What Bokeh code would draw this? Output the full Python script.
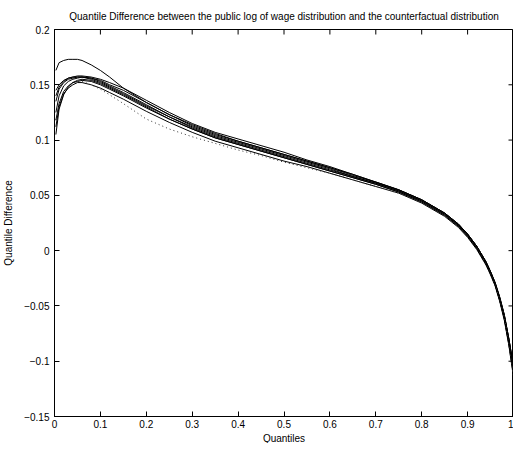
import math
from bokeh.plotting import figure
from bokeh.models import Range1d, FixedTicker, ColumnDataSource, Title
from bokeh.embed import file_html
from bokeh.resources import INLINE

# ---------------- data ----------------
q = [0.003, 0.01, 0.02, 0.03, 0.04, 0.05, 0.06, 0.08, 0.10, 0.12, 0.15, 0.20,
     0.25, 0.30, 0.35, 0.40, 0.45, 0.50, 0.55, 0.60, 0.65, 0.70, 0.75, 0.80,
     0.85, 0.88, 0.90, 0.92, 0.94, 0.95, 0.96, 0.97, 0.98, 0.99, 0.997, 1.0]

top_curve = [0.163, 0.170, 0.172, 0.173, 0.173, 0.173, 0.172, 0.168, 0.163, 0.157, 0.147, 0.134,
             0.123, 0.113, 0.105, 0.099, 0.093, 0.087, 0.081, 0.075, 0.069, 0.062, 0.055, 0.046,
             0.034, 0.024, 0.015, 0.004, -0.010, -0.019, -0.029, -0.042, -0.058, -0.080, -0.098, -0.106]

c1 = [0.105, 0.128, 0.141, 0.148, 0.152, 0.154, 0.155, 0.154, 0.151, 0.147, 0.141, 0.130,
      0.119, 0.110, 0.102, 0.096, 0.090, 0.084, 0.078, 0.072, 0.066, 0.060, 0.053, 0.044,
      0.032, 0.022, 0.013, 0.002, -0.012, -0.021, -0.031, -0.045, -0.062, -0.085, -0.104, -0.112]

c2 = [0.140, 0.148, 0.153, 0.156, 0.157, 0.158, 0.158, 0.157, 0.155, 0.152, 0.147, 0.136,
      0.125, 0.115, 0.107, 0.101, 0.095, 0.089, 0.082, 0.076, 0.069, 0.062, 0.055, 0.046,
      0.034, 0.024, 0.015, 0.004, -0.010, -0.019, -0.029, -0.042, -0.058, -0.080, -0.098, -0.105]

c3 = [0.125, 0.140, 0.149, 0.153, 0.155, 0.156, 0.157, 0.156, 0.153, 0.149, 0.143, 0.132,
      0.121, 0.112, 0.104, 0.098, 0.092, 0.086, 0.080, 0.074, 0.067, 0.061, 0.054, 0.045,
      0.033, 0.023, 0.014, 0.003, -0.011, -0.020, -0.030, -0.044, -0.060, -0.083, -0.101, -0.109]

c4 = [0.112, 0.130, 0.142, 0.147, 0.150, 0.152, 0.152, 0.150, 0.147, 0.143, 0.137, 0.126,
      0.116, 0.107, 0.099, 0.093, 0.087, 0.081, 0.076, 0.070, 0.064, 0.058, 0.052, 0.043,
      0.031, 0.021, 0.012, 0.001, -0.013, -0.022, -0.032, -0.046, -0.063, -0.086, -0.106, -0.115]

c5 = [0.145, 0.150, 0.154, 0.156, 0.157, 0.157, 0.157, 0.155, 0.152, 0.148, 0.142, 0.131,
      0.121, 0.111, 0.103, 0.097, 0.091, 0.085, 0.079, 0.073, 0.067, 0.061, 0.054, 0.045,
      0.033, 0.023, 0.014, 0.003, -0.011, -0.020, -0.030, -0.043, -0.059, -0.081, -0.099, -0.106]

c6 = [0.118, 0.133, 0.144, 0.149, 0.152, 0.153, 0.154, 0.153, 0.150, 0.146, 0.140, 0.129,
      0.119, 0.110, 0.102, 0.096, 0.090, 0.084, 0.078, 0.072, 0.066, 0.060, 0.053, 0.044,
      0.032, 0.022, 0.013, 0.002, -0.012, -0.021, -0.031, -0.045, -0.061, -0.084, -0.103, -0.111]

c7 = [0.135, 0.146, 0.152, 0.155, 0.156, 0.157, 0.157, 0.156, 0.154, 0.150, 0.145, 0.134,
      0.123, 0.114, 0.106, 0.099, 0.093, 0.087, 0.081, 0.075, 0.068, 0.062, 0.055, 0.046,
      0.034, 0.024, 0.015, 0.004, -0.010, -0.019, -0.029, -0.043, -0.059, -0.080, -0.097, -0.104]

dotted = [0.118, 0.132, 0.143, 0.149, 0.152, 0.153, 0.153, 0.150, 0.146, 0.141, 0.133, 0.119,
          0.110, 0.103, 0.097, 0.091, 0.086, 0.080, 0.075, 0.070, 0.064, 0.058, 0.052, 0.044,
          0.032, 0.022, 0.013, 0.003, -0.012, -0.021, -0.031, -0.044, -0.060, -0.085, -0.106, -0.114]

x_ticks = [0, 0.1, 0.2, 0.3, 0.4, 0.5, 0.6, 0.7, 0.8, 0.9, 1]
x_tick_labels = ["0", "0.1", "0.2", "0.3", "0.4", "0.5", "0.6", "0.7", "0.8", "0.9", "1"]
y_ticks = [-0.15, -0.1, -0.05, 0, 0.05, 0.1, 0.15, 0.2]
y_tick_labels = ["\u22120.15", "\u22120.1", "\u22120.05", "0", "0.05", "0.1", "0.15", "0.2"]

title_text = "Quantile Difference between the public log of wage distribution and the counterfactual distribution"
x_label = "Quantiles"
y_label = "Quantile Difference"

# ---------------- figure ----------------
FONT = "Liberation Sans"
X0, X1 = 0, 1
Y0, Y1 = -0.15, 0.2

p = figure(width=513, height=443,
           x_range=Range1d(X0, X1), y_range=Range1d(Y0, Y1),
           output_backend="svg", toolbar_location=None,
           min_border_left=0, min_border_right=0,
           min_border_top=0, min_border_bottom=0)

p.title.text = title_text
p.title.text_font = FONT
p.title.text_font_size = "10px"
p.title.text_font_style = "normal"
p.title.align = "center"
p.title.text_color = "#000000"
p.title.offset = 0
p.title.standoff = 16

p.xgrid.visible = False
p.ygrid.visible = False
p.outline_line_color = "black"
p.outline_line_width = 1
p.background_fill_color = "white"
p.border_fill_color = "white"

def style_axis(ax, ticks, labels, label_standoff):
    ax.ticker = FixedTicker(ticks=ticks)
    ax.major_tick_in = 5
    ax.major_tick_out = 0
    ax.minor_tick_line_color = None
    ax.axis_line_color = "black"
    ax.major_tick_line_color = "black"
    ax.major_label_overrides = {t: l for t, l in zip(ticks, labels)}
    ax.major_label_text_font = FONT
    ax.major_label_text_font_size = "10px"
    ax.major_label_text_color = "#000000"
    ax.major_label_standoff = label_standoff
    ax.axis_label_text_font = FONT
    ax.axis_label_text_font_size = "10px"
    ax.axis_label_text_font_style = "normal"
    ax.axis_label_text_color = "#000000"

style_axis(p.xaxis[0], x_ticks, x_tick_labels, 3)
style_axis(p.yaxis[0], y_ticks, y_tick_labels, 5)
p.yaxis[0].axis_label = y_label
p.yaxis[0].axis_label_standoff = 7

# x-axis label as a title placed below the tick labels
xlab = Title(text=x_label, align="center", text_font=FONT, text_font_size="10px",
             text_font_style="normal", text_color="#000000", offset=0, standoff=0)
p.add_layout(xlab, "below")

# inward ticks on the top and right edges of the box (clipped to the frame)
p.scatter(x=x_ticks, y=[Y1] * len(x_ticks), marker="dash", size=10,
          angle=math.pi / 2, line_color="black", line_width=1)
p.scatter(x=[X1] * len(y_ticks), y=y_ticks, marker="dash", size=10,
          line_color="black", line_width=1)

# ---------------- lines ----------------
for series in [c1, c2, c3, c4, c5, c6, c7, top_curve]:
    src = ColumnDataSource(dict(x=q, y=series))
    p.line("x", "y", source=src, line_color="black", line_width=1)

src_d = ColumnDataSource(dict(x=q, y=dotted))
p.line("x", "y", source=src_d, line_color="#333333", line_width=1, line_dash="1 3")

open("out.html", "w").write(file_html(p, INLINE))
